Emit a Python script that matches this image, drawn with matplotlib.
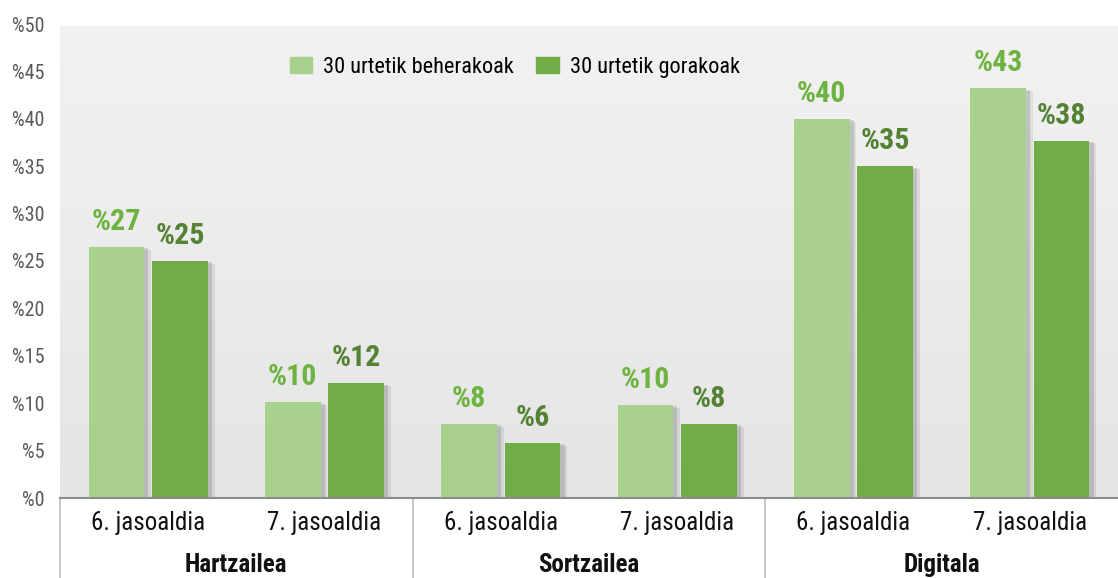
import numpy as np
import matplotlib
matplotlib.use('Agg')
import matplotlib.pyplot as plt
import matplotlib.patheffects as pe
from matplotlib import font_manager
from matplotlib.patches import Patch
from matplotlib.transforms import blended_transform_factory

# data
sub_labels = ['6. jasoaldia', '7. jasoaldia'] * 3
groups = ['Hartzailea', 'Sortzailea', 'Digitala']
series_names = ['30 urtetik beherakoak', '30 urtetik gorakoak']
under30 = [26.5, 10.1, 7.8, 9.8, 40.0, 43.2]
over30 = [25.0, 12.1, 5.8, 7.8, 35.0, 37.7]
under30_labels = ['%27', '%10', '%8', '%10', '%40', '%43']
over30_labels = ['%25', '%12', '%6', '%8', '%35', '%38']
yticks = list(range(0, 51, 5))

light = '#a9d18e'
dark = '#70ad47'
light_txt = '#6db33f'
dark_txt = '#548235'

names = {f.name for f in font_manager.fontManager.ttflist}
family = 'DejaVu Sans'
for cand in ['Roboto Condensed', 'Liberation Sans Narrow', 'Open Sans Condensed', 'Roboto']:
    if cand in names:
        family = cand
        break
plt.rcParams['font.family'] = [family, 'DejaVu Sans']

W, H = 1118, 578
fig = plt.figure(figsize=(W / 100, H / 100), dpi=100)
ax = fig.add_axes([60 / W, (H - 498) / H, 1058 / W, 474 / H])

x = np.arange(len(under30))
ax.set_xlim(-0.5, len(under30) - 0.5)
ax.set_ylim(0, 50)

# background gradient
grad = np.linspace(0, 1, 256).reshape(-1, 1)
cmap = matplotlib.colors.LinearSegmentedColormap.from_list('bg', ['#f2f2f2', '#e5e5e5'])
ax.imshow(grad, extent=(-0.5, len(under30) - 0.5, 0, 49.7), aspect='auto',
          cmap=cmap, zorder=0, origin='upper')
ax.set_facecolor('white')

shadow = [pe.SimplePatchShadow(offset=(5, -2), shadow_rgbFace='k', alpha=0.08),
          pe.SimplePatchShadow(offset=(3, -1), shadow_rgbFace='k', alpha=0.12),
          pe.Normal()]
w = 0.315
off = 0.18
b1 = ax.bar(x - off, under30, w, color=light, zorder=2, label=series_names[0])
b2 = ax.bar(x + off, over30, w, color=dark, zorder=2, label=series_names[1])
for b in list(b1) + list(b2):
    b.set_path_effects(shadow)

for xi, v, t in zip(x, under30, under30_labels):
    ax.annotate(t, (xi - off, v), xytext=(0, 18), textcoords='offset points',
                ha='center', va='center', fontsize=21.5, fontweight='bold', color=light_txt)
for xi, v, t in zip(x, over30, over30_labels):
    ax.annotate(t, (xi + off, v), xytext=(0, 18), textcoords='offset points',
                ha='center', va='center', fontsize=21.5, fontweight='bold', color=dark_txt)

ax.set_yticks(yticks)
ax.set_yticklabels([f'%{v}' for v in yticks], color='#595959', fontsize=14.5)
ax.tick_params(axis='y', length=0, pad=11)
ax.set_xticks([])
for s in ['top', 'right', 'left']:
    ax.spines[s].set_visible(False)
ax.spines['bottom'].set_color('#8c8c8c')
ax.spines['bottom'].set_linewidth(1.5)
ax.spines['bottom'].set_zorder(3)

# category table below the axis
tr = blended_transform_factory(ax.transData, ax.transAxes)
for xi, t in zip(x, sub_labels):
    ax.text(xi, -0.053, t, transform=tr, ha='center', va='center',
            fontsize=18, color='#111111')
for gi, g in enumerate(groups):
    ax.text(2 * gi + 0.5, -0.141, g, transform=tr, ha='center', va='center',
            fontsize=18, fontweight='bold', color='#111111')
for xv in [-0.5, 1.5, 3.5]:
    ax.plot([xv, xv], [0, -0.2], transform=tr, color='#bfbfbf', lw=1.2,
            clip_on=False, zorder=3)

handles = [Patch(color=light), Patch(color=dark)]
ax.legend(handles, series_names, loc='center', bbox_to_anchor=(0.43, 0.909),
          ncol=2, frameon=False, fontsize=16, handlelength=1.0, handleheight=0.75,
          columnspacing=1.0, handletextpad=0.5)

fig.savefig('out.png', dpi=100)
